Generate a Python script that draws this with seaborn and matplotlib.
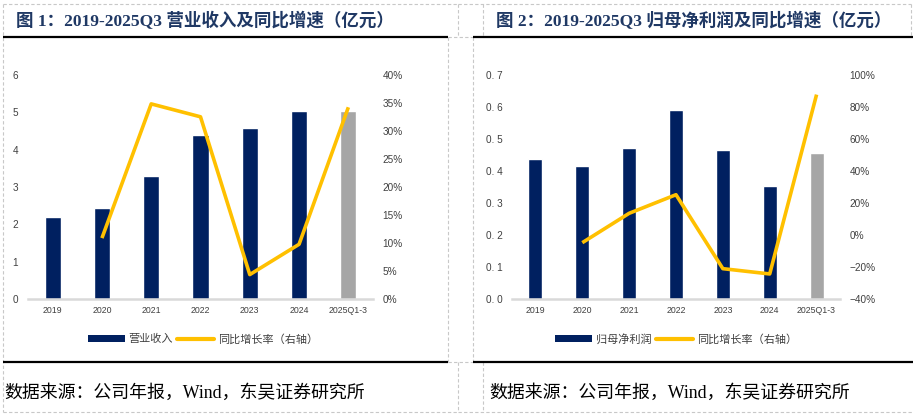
import numpy as np
import pandas as pd
import matplotlib
matplotlib.use("Agg")
import matplotlib.pyplot as plt
import seaborn as sns
from matplotlib.lines import Line2D
from matplotlib.patches import Patch
from matplotlib.ticker import FuncFormatter, MultipleLocator

# ---------------- data ----------------
categories = ["2019", "2020", "2021", "2022", "2023", "2024", "2025Q1-3"]
revenue = [2.20, 2.44, 3.29, 4.39, 4.58, 5.03, 5.03]
revenue_yoy = [np.nan, 10.9, 34.8, 32.5, 4.4, 9.8, 34.2]
profit = [0.437, 0.415, 0.471, 0.590, 0.465, 0.353, 0.456]
profit_yoy = [np.nan, -4.7, 13.6, 25.2, -20.9, -24.2, 87.6]

title1 = "图 1：2019-2025Q3 营业收入及同比增速（亿元）"
title2 = "图 2：2019-2025Q3 归母净利润及同比增速（亿元）"
bar_label1 = "营业收入"
bar_label2 = "归母净利润"
line_label = "同比增长率（右轴）"
source = "数据来源：公司年报，Wind，东吴证券研究所"

NAVY = "#002060"
GREY = "#A6A6A6"
GOLD = "#FFC000"
bar_colors = [NAVY] * 6 + [GREY]

W, H = 913, 415
sns.set_theme(style="white")
plt.rcParams['font.family'] = ['Liberation Sans', 'Noto Sans CJK SC', 'DejaVu Sans']
plt.rcParams['axes.unicode_minus'] = True

fig = plt.figure(figsize=(W / 100, H / 100), dpi=100)
fig.patch.set_facecolor("white")


def px_rect(x0, x1, ytop, ybot):
    return [x0 / W, 1 - ybot / H, (x1 - x0) / W, (ybot - ytop) / H]


def fline(x0, y0, x1, y1, dashed=True):
    if dashed:
        ln = Line2D([x0 / W, x1 / W], [1 - y0 / H, 1 - y1 / H], transform=fig.transFigure,
                    color="#C8C8C8", lw=0.8, linestyle=(0, (3, 2)))
    else:
        ln = Line2D([x0 / W, x1 / W], [1 - y0 / H, 1 - y1 / H], transform=fig.transFigure,
                    color="black", lw=1.6, solid_capstyle="butt")
    fig.add_artist(ln)


TICK_COLOR = "#404040"


def panel(rect, values, yoy, ylim, ystep, y2lim, y2step, left_fmt, width):
    ax = fig.add_axes(rect)
    df = pd.DataFrame({"cat": categories, "val": values})
    sns.barplot(data=df, x="cat", y="val", hue="cat", palette=bar_colors, legend=False,
                width=width, saturation=1, ax=ax)
    ax.set_xlim(-0.5, len(categories) - 0.5)
    ax.set_ylim(*ylim)
    ax.yaxis.set_major_locator(MultipleLocator(ystep))
    ax.yaxis.set_major_formatter(FuncFormatter(left_fmt))
    ax.set_xlabel("")
    ax.set_ylabel("")
    for s in ["top", "right", "left"]:
        ax.spines[s].set_visible(False)
    ax.spines["bottom"].set_color("#D9D9D9")
    ax.spines["bottom"].set_linewidth(1.8)
    ax.tick_params(axis="both", length=0, colors=TICK_COLOR)
    ax.tick_params(axis="x", labelsize=6.3, pad=5)
    ax.tick_params(axis="y", labelsize=7.2, pad=7)

    ax2 = ax.twinx()
    ldf = pd.DataFrame({"pos": np.arange(len(categories)), "yoy": yoy}).dropna()
    sns.lineplot(data=ldf, x="pos", y="yoy", color=GOLD, linewidth=2.6, ax=ax2,
                 sort=False, solid_capstyle="butt")
    ax2.set_ylim(*y2lim)
    ax2.yaxis.set_major_locator(MultipleLocator(y2step))
    ax2.yaxis.set_major_formatter(FuncFormatter(lambda v, p: f"{v:.0f}%".replace("-", "\u2212")))
    ax2.set_xlim(-0.5, len(categories) - 0.5)
    ax2.set_ylabel("")
    ax2.set_xlabel("")
    for s in ax2.spines.values():
        s.set_visible(False)
    ax2.tick_params(axis="y", length=0, labelsize=7.2, pad=7, colors=TICK_COLOR)
    return ax, ax2


panel(px_rect(28, 373, 74.7, 299.3), revenue, revenue_yoy, (0, 6), 1, (0, 40), 5,
      lambda v, p: f"{v:.0f}", 0.33)
panel(px_rect(512, 840, 74.7, 299.3), profit, profit_yoy, (0, 0.7), 0.1, (-40, 100), 20,
      lambda v, p: f"{v:.1f}".replace(".", ". "), 0.30)

# ---------------- legends ----------------
for cx, blabel in [(203, bar_label1), (676, bar_label2)]:
    handles = [Patch(facecolor=NAVY, edgecolor="none"),
               Line2D([0], [0], color=GOLD, lw=3.0, solid_capstyle="round")]
    fig.legend(handles, [blabel, line_label], loc="center", ncol=2, frameon=False,
               bbox_to_anchor=(cx / W, 1 - 339 / H),
               prop={"family": ["Noto Sans CJK SC"], "size": 8},
               handlelength=3.3, handleheight=0.65, handletextpad=0.35, columnspacing=0.4,
               labelcolor="#404040")

# ---------------- titles & sources ----------------
title_font = ["Liberation Serif", "Noto Sans CJK SC"]
fig.text(16 / W, 1 - 21 / H, title1, ha="left", va="center", fontsize=12.6,
         fontweight="bold", color="#1F3864", family=title_font)
fig.text(496 / W, 1 - 21 / H, title2, ha="left", va="center", fontsize=12.6,
         fontweight="bold", color="#1F3864", family=title_font)
fig.text(4 / W, 1 - 393 / H, source, ha="left", va="center", fontsize=12.9,
         color="black", family=title_font)
fig.text(489 / W, 1 - 393 / H, source, ha="left", va="center", fontsize=12.9,
         color="black", family=title_font)

# ---------------- borders ----------------
# panel 1
fline(3, 4, 458, 4)
fline(3, 4, 3, 412)
fline(458, 4, 458, 37)
fline(448, 37, 448, 362)
fline(458, 362, 458, 412)
fline(3, 412, 458, 412)
fline(3, 37, 448, 37, dashed=False)
fline(3, 362, 448, 362, dashed=False)
# panel 2
fline(458, 4, 911, 4)
fline(483, 4, 483, 37)
fline(911, 4, 911, 37)
fline(473, 37, 473, 362)
fline(483, 362, 483, 412)
fline(458, 412, 913, 412)
fline(448, 37, 473, 37)
fline(448, 362, 473, 362)
fline(473, 37, 913, 37, dashed=False)
fline(473, 362, 913, 362, dashed=False)

fig.savefig("out.png", dpi=100, facecolor="white")
